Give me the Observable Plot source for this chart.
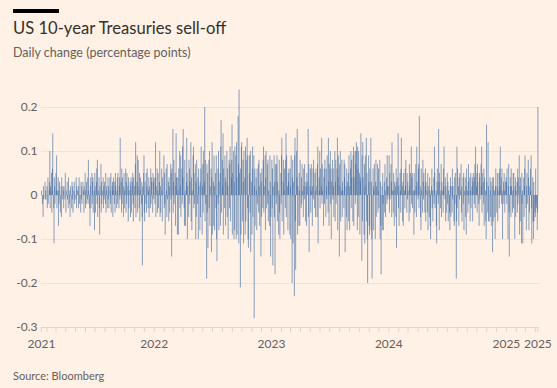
<!DOCTYPE html>
<html><head><meta charset="utf-8">
<script src="https://cdn.jsdelivr.net/npm/d3@7"></script>
<script src="https://cdn.jsdelivr.net/npm/@observablehq/plot@0.6"></script>
<style>
html,body{margin:0;padding:0;background:#fff1e5;}
#wrap{position:relative;width:557px;height:388px;overflow:hidden;font-family:Lato,"Noto Sans",sans-serif;}
#bar{position:absolute;left:13px;top:9px;width:46px;height:4px;background:#000;}
#title{position:absolute;left:13px;top:20px;font-size:16.6px;line-height:17px;color:#33302e;white-space:nowrap;}
#sub{position:absolute;left:13px;top:46px;font-size:12.5px;line-height:13px;color:#66605c;white-space:nowrap;}
#src{position:absolute;left:13px;top:370px;font-size:11px;line-height:12px;color:#66605c;white-space:nowrap;}
#chart{position:absolute;left:0;top:0;}
</style></head>
<body><div id="wrap">
<div id="bar"></div>
<div id="title">US 10-year Treasuries sell-off</div>
<div id="sub">Daily change (percentage points)</div>
<div id="chart"></div>
<div id="src">Source: Bloomberg</div>
</div>
<script>
// Daily change in basis points, one value per trading day
const bp2021 = [
1,-2,0,-5,2,-1,0,3,-1,1,
-1,2,-3,0,4,-2,1,3,10,-3,
2,5,-4,1,6,14,-3,-11,4,2,
-2,5,1,9,-3,1,4,-7,1,-2,
3,-4,0,2,-5,4,-1,2,1,-3,
2,-1,5,0,-4,1,3,-1,0,-3,
4,-2,1,-5,2,0,-3,3,-1,2,
-4,1,3,-2,0,-1,4,-3,2,0,
1,-3,2,4,-2,0,-4,3,-1,2,
-2,3,0,1,-4,2,5,-3,1,-2,
3,-1,4,-2,8,1,-3,-7,2,4,
-3,5,-2,3,4,-4,1,-8,5,2,
-4,3,6,-2,8,-5,1,4,-3,-9,
2,7,-4,3,-2,1,4,-3,2,-1,
3,-2,5,-4,1,2,-3,4,-1,2,
-3,4,1,-2,5,-4,2,3,-5,1,
4,-2,3,-4,5,2,-3,1,4,-2,
5,-3,2,4,-1,13,3,-4,6,-2,
4,-5,2,5,-3,1,6,-4,3,-2,
5,2,-6,4,-3,1,3,-5,2,4,
-4,3,5,-2,-6,4,2,-3,7,12,
-5,3,9,-4,2,8,-3,5,-6,1,
4,-2,3,-5,-16,2,5,9,-4,-6,
3,-2,5,-4,2,6,-3,1,4,-5,
2,-3,6,-2,4,3,-4,5,-1,3,
4];
const bp2022 = [
-2,4,12,-5,2,6,-4,1,5,-3,
3,10,-5,2,-4,6,1,-6,4,0,
9,-3,5,-2,-9,6,1,-5,7,-1,
3,-6,4,2,-4,7,-1,5,-14,6,
15,-4,3,8,-2,5,-7,2,14,4,
-9,4,1,-9,6,10,-3,2,9,-5,
6,-2,11,4,15,-3,-7,8,1,-7,
3,13,5,-10,2,-5,8,-2,6,3,
12,-6,4,-8,1,9,11,-3,5,-2,
7,-10,3,-5,8,-2,4,-10,6,2,
-8,3,-5,6,11,-9,2,7,-4,10,
3,20,-6,8,-2,-19,7,-4,5,-12,
8,-3,10,-7,2,6,-13,4,12,-9,
3,-7,9,2,-8,5,-3,9,-10,-15,
6,-2,10,-8,3,5,-7,11,17,-4,
8,2,14,-9,6,-3,9,4,-7,3,
10,-5,6,2,-10,8,-3,7,11,-6,
4,8,16,-9,5,10,-10,3,-8,11,
9,-10,12,4,-9,18,7,-11,24,5,
-21,6,-9,11,12,-6,8,3,-11,10,
4,-9,11,-6,8,13,-3,9,-10,-12,
5,9,-4,10,-13,3,-9,6,11,-5,
9,-28,2,6,-7,4,1,-8,6,-2,
7,-4,8,2,-7,5,-14,3,-5,6,
-3,8,11,-4,2,9,-8,4,10,-3,
7,-2,8,-6,1,-7,9,3,-14,-5];
const bp2023 = [
8,-3,6,-16,2,9,-5,3,-18,7,
-2,7,9,-6,3,-9,1,8,-4,-10,
5,-2,9,13,-6,3,8,-9,1,6,
-3,8,14,-5,9,2,-8,5,3,6,
-9,6,2,-10,9,-20,4,8,-11,3,
-23,9,13,-6,-17,10,4,15,-9,2,
-7,5,1,-7,8,-3,4,-2,7,1,
-5,6,2,-1,7,-6,3,2,-7,5,
3,15,-5,7,-13,2,6,-4,1,7,
-7,2,6,-1,8,-3,5,1,-5,6,
2,-5,7,11,-11,4,1,10,-3,6,
2,13,-2,7,1,-7,4,6,-2,8,
-5,6,2,-1,9,-4,13,3,-7,7,
10,-2,6,-10,3,8,-1,6,2,-5,
10,-6,3,8,-2,6,13,-8,4,9,
-14,7,2,10,-6,1,8,-5,3,1,
-3,8,4,7,-13,2,-5,6,-8,3,
5,-6,9,2,-8,6,10,-3,8,4,
-6,9,11,-7,4,10,-2,7,10,12,
-8,11,6,-5,10,5,-9,4,3,14,
-15,9,-6,12,4,-9,7,-11,2,9,
13,-6,5,-10,-20,9,3,-7,-9,6,
13,-8,3,-10,-19,6,2,-8,1,7,
-10,3,8,-5,2,7,-4,1,6,-3,
8,-10,3,-7,-18,2,-8,5,-2,-8,
3,-4,7,1,-5,4,-2,9,2,-1];
const bp2024 = [
2,9,-4,5,-1,7,3,-5,12,1,
-4,5,1,-7,3,2,-5,6,-12,3,
4,14,-3,2,-7,5,1,-4,6,13,
2,-6,3,-7,5,1,-3,6,2,8,
-4,5,-1,3,1,-6,7,2,-4,5,
11,-2,4,5,-3,1,-9,5,1,-4,
7,2,-5,11,3,-1,6,7,-3,18,
2,-5,-8,6,1,-4,8,3,-1,5,
-4,2,6,-6,3,1,-4,5,-8,2,
-5,4,1,-7,-10,2,6,-3,1,-6,
4,-2,11,5,-3,1,-7,-11,3,6,
-2,15,3,-8,5,-3,1,7,-5,3,
1,-4,6,2,11,-1,4,-6,2,-4,
5,-2,3,-6,1,-4,-8,2,4,-5,
2,-4,6,-1,2,-6,-7,4,-2,5,
-19,-6,11,-3,6,2,-7,4,-1,5,
1,7,-4,2,-6,4,-2,5,-8,1,
4,-5,2,-9,6,1,-4,3,7,-2,
4,-6,1,5,-3,2,4,-6,3,5,
-2,4,7,-3,11,2,5,-4,7,3,
-2,-7,5,4,-1,7,2,11,-4,5,
3,-2,6,-7,4,1,-6,-10,16,3,
-4,12,2,-6,-6,4,1,-5,3,-7,
4,-13,2,-6,4,1,-5,-10,2,6,
-4,2,5,-6,1,5,-3,6,2,11,
4,-2,6,1,-10,3,-2,5,1,-4,
3,4];
const bp2025 = [
3,-2,6,-10,2,7,-4,-14,4,2,
-5,6,2,-4,1,5,-3,5,-10,2,
4,-5,1,3,-4,6,-2,4,9,-9,
2,-6,4,-11,5,-2,1,-11,4,-5,
2,6,9,-3,-8,2,5,-2,8,4,
-8,2,-4,6,1,9,-3,-11,4,-6,
-10,3,-6,-4,-5,6,-2,-3,-8,-4,
20];
const segmentStarts = ["2021-01-15","2022-01-01","2023-01-01","2024-01-01","2025-01-01"];
const segmentValues = [bp2021,bp2022,bp2023,bp2024,bp2025];
const yTicks = [-0.3,-0.2,-0.1,0,0.1,0.2];
const yearLabels = ["2022-01-01","2023-01-01","2024-01-01","2025-01-01"];
const xStart = new Date("2021-01-15T00:00:00Z");
const xEnd = new Date("2025-04-14T00:00:00Z");

function weekdays(from, n) {
  const out = [];
  const d = new Date(from);
  while (out.length < n) {
    const wd = d.getUTCDay();
    if (wd !== 0 && wd !== 6) out.push(new Date(d));
    d.setUTCDate(d.getUTCDate() + 1);
  }
  return out;
}
const data = [];
segmentStarts.forEach((s, k) => {
  const vals = segmentValues[k];
  const ds = weekdays(new Date(s + "T00:00:00Z"), vals.length);
  vals.forEach((v, i) => data.push({date: ds[i], value: v / 100}));
});
const lastDate = data[data.length - 1].date;
const monthTicks = d3.utcMonth.range(new Date("2021-02-01T00:00:00Z"), xEnd);
const labelTicks = [xStart, ...yearLabels.map(s => new Date(s + "T00:00:00Z")), lastDate];
const font = 'Lato, "Noto Sans", sans-serif';

const chart = Plot.plot({
  width: 557, height: 360,
  marginLeft: 41, marginRight: 18, marginTop: 85, marginBottom: 33,
  style: {background: "transparent", fontFamily: font, fontSize: "12px", color: "#66605c"},
  x: {type: "utc", domain: [xStart, xEnd]},
  y: {domain: [-0.3, 0.25]},
  marks: [
    Plot.gridY(yTicks, {stroke: "#f1e2d5", strokeOpacity: 1}),
    Plot.ruleX(data, {x: "date", y1: 0, y2: "value", stroke: "#36659f", strokeWidth: 0.6}),
    Plot.ruleY([-0.3], {stroke: "#e2d5c9"}),
    Plot.axisX([xStart, ...monthTicks, lastDate], {tickSize: 5, tickFormat: () => "", stroke: "#e0d3c7", label: null}),
    Plot.axisX(labelTicks, {tickSize: 0, tickPadding: 12, tickFormat: d3.utcFormat("%Y"), fill: "#66605c", label: null}),
    Plot.axisY(yTicks, {tickSize: 0, tickPadding: 4, tickFormat: d => d === 0 ? "0" : d.toFixed(1), fill: "#66605c", label: null})
  ]
});
document.getElementById("chart").appendChild(chart);
</script>
</body></html>
